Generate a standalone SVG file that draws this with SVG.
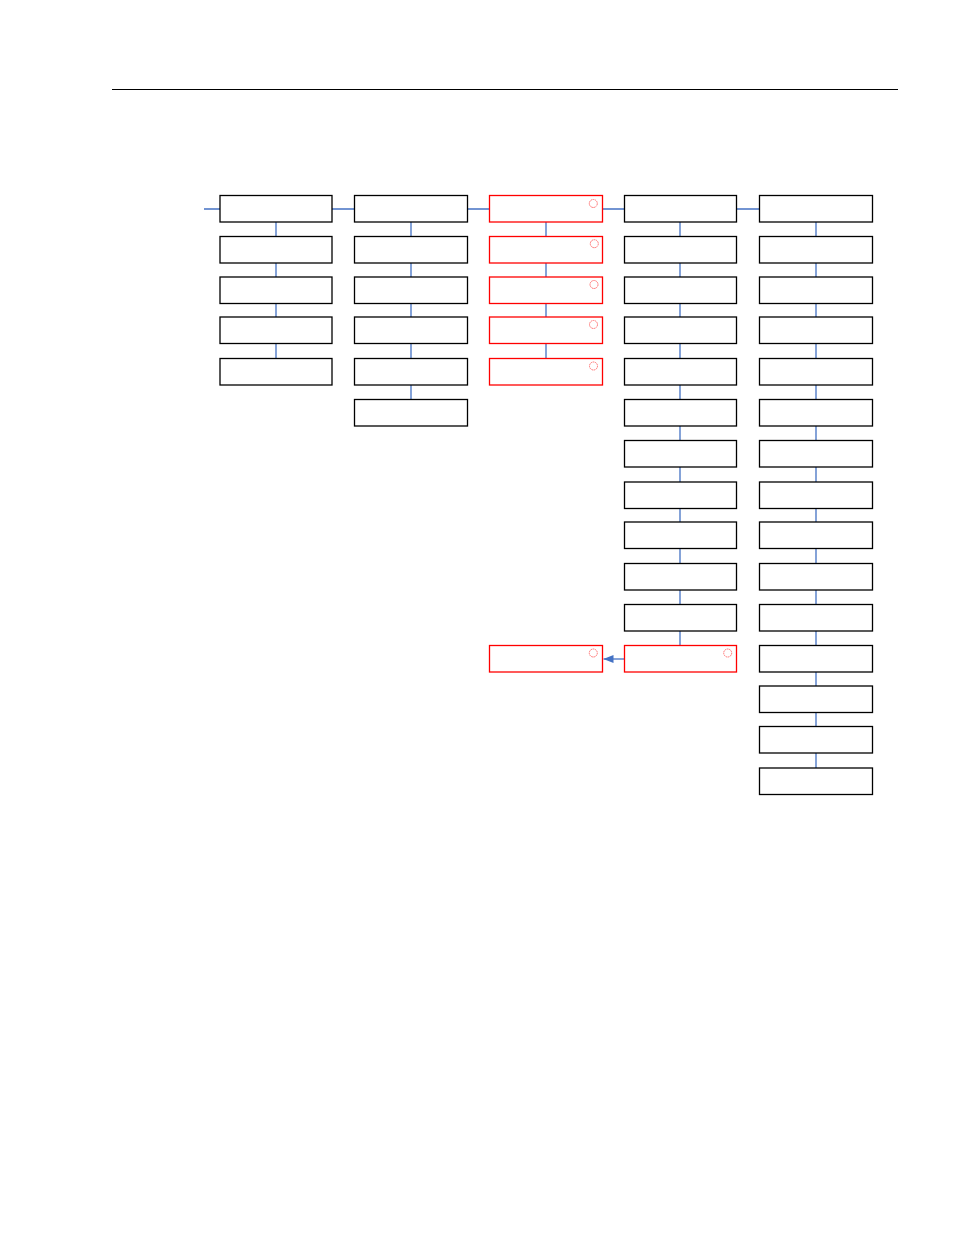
<svg xmlns="http://www.w3.org/2000/svg" width="954" height="1235" viewBox="0 0 954 1235">
<style>
.b{fill:#fff;stroke:#000;stroke-width:1.3}
.r{fill:#fff;stroke:#ff0000;stroke-width:1.3}
.c{fill:none;stroke:#ff7070;stroke-width:1;stroke-dasharray:1.6 0.6}
.k{fill:none;stroke:#4472c4;stroke-width:1.3}
</style>
<defs>
<marker id="ah" viewBox="0 0 10 8" refX="10" refY="4" markerWidth="10" markerHeight="8" orient="auto" markerUnits="userSpaceOnUse"><path d="M0,0L10,4L0,8z" fill="#4472c4"/></marker>
</defs>
<line x1="112" y1="89.5" x2="898" y2="89.5" stroke="#000" stroke-width="1"/>
<g id="connectors">
<path class="k" d="M204,209H220M332,209H354M467,209H489M602,209H624M736,209H759"/>
<path class="k" d="M276,222V236.5M276,263V277M276,303.5V317M276,343.5V358.5"/>
<path class="k" d="M411,222V236.5M411,263V277M411,303.5V317M411,343.5V358.5M411,385V399.5"/>
<path class="k" d="M546,222V236.5M546,263V277M546,303.5V317M546,343.5V358.5"/>
<path class="k" d="M680,222V236.5M680,263V277M680,303.5V317M680,343.5V358.5M680,385V399.5M680,426V440.5M680,467V482M680,508.5V522M680,548.5V563.5M680,590V604.5M680,631V645.5"/>
<path class="k" d="M816,222V236.5M816,263V277M816,303.5V317M816,343.5V358.5M816,385V399.5M816,426V440.5M816,467V482M816,508.5V522M816,548.5V563.5M816,590V604.5M816,631V645.5M816,672V686M816,712.5V726.5M816,753V768"/>
<line class="k" x1="624" y1="659" x2="603.5" y2="659" marker-end="url(#ah)"/>
</g>
<g id="col1">
<rect id="n1_0" class="b" x="220" y="195.5" width="112" height="26.5"/>
<rect id="n1_1" class="b" x="220" y="236.5" width="112" height="26.5"/>
<rect id="n1_2" class="b" x="220" y="277" width="112" height="26.5"/>
<rect id="n1_3" class="b" x="220" y="317" width="112" height="26.5"/>
<rect id="n1_4" class="b" x="220" y="358.5" width="112" height="26.5"/>
</g>
<g id="col2">
<rect id="n2_0" class="b" x="354.5" y="195.5" width="113" height="26.5"/>
<rect id="n2_1" class="b" x="354.5" y="236.5" width="113" height="26.5"/>
<rect id="n2_2" class="b" x="354.5" y="277" width="113" height="26.5"/>
<rect id="n2_3" class="b" x="354.5" y="317" width="113" height="26.5"/>
<rect id="n2_4" class="b" x="354.5" y="358.5" width="113" height="26.5"/>
<rect id="n2_5" class="b" x="354.5" y="399.5" width="113" height="26.5"/>
</g>
<g id="col3">
<g id="n3_0"><rect class="r" x="489.5" y="195.5" width="113" height="26.5"/><circle class="c" cx="593.3" cy="203.5" r="4"/></g>
<g id="n3_1"><rect class="r" x="489.5" y="236.5" width="113" height="26.5"/><circle class="c" cx="594.3" cy="243.7" r="4"/></g>
<g id="n3_2"><rect class="r" x="489.5" y="277" width="113" height="26.5"/><circle class="c" cx="594" cy="284.5" r="4"/></g>
<g id="n3_3"><rect class="r" x="489.5" y="317" width="113" height="26.5"/><circle class="c" cx="593.5" cy="324.5" r="4"/></g>
<g id="n3_4"><rect class="r" x="489.5" y="358.5" width="113" height="26.5"/><circle class="c" cx="593.5" cy="366" r="4"/></g>
<g id="n3_11"><rect class="r" x="489.5" y="645.5" width="113" height="26.5"/><circle class="c" cx="593.3" cy="653" r="4"/></g>
</g>
<g id="col4">
<rect id="n4_0" class="b" x="624.5" y="195.5" width="112" height="26.5"/>
<rect id="n4_1" class="b" x="624.5" y="236.5" width="112" height="26.5"/>
<rect id="n4_2" class="b" x="624.5" y="277" width="112" height="26.5"/>
<rect id="n4_3" class="b" x="624.5" y="317" width="112" height="26.5"/>
<rect id="n4_4" class="b" x="624.5" y="358.5" width="112" height="26.5"/>
<rect id="n4_5" class="b" x="624.5" y="399.5" width="112" height="26.5"/>
<rect id="n4_6" class="b" x="624.5" y="440.5" width="112" height="26.5"/>
<rect id="n4_7" class="b" x="624.5" y="482" width="112" height="26.5"/>
<rect id="n4_8" class="b" x="624.5" y="522" width="112" height="26.5"/>
<rect id="n4_9" class="b" x="624.5" y="563.5" width="112" height="26.5"/>
<rect id="n4_10" class="b" x="624.5" y="604.5" width="112" height="26.5"/>
<g id="n4_11"><rect class="r" x="624.5" y="645.5" width="112" height="26.5"/><circle class="c" cx="727.7" cy="653" r="4"/></g>
</g>
<g id="col5">
<rect id="n5_0" class="b" x="759.5" y="195.5" width="113" height="26.5"/>
<rect id="n5_1" class="b" x="759.5" y="236.5" width="113" height="26.5"/>
<rect id="n5_2" class="b" x="759.5" y="277" width="113" height="26.5"/>
<rect id="n5_3" class="b" x="759.5" y="317" width="113" height="26.5"/>
<rect id="n5_4" class="b" x="759.5" y="358.5" width="113" height="26.5"/>
<rect id="n5_5" class="b" x="759.5" y="399.5" width="113" height="26.5"/>
<rect id="n5_6" class="b" x="759.5" y="440.5" width="113" height="26.5"/>
<rect id="n5_7" class="b" x="759.5" y="482" width="113" height="26.5"/>
<rect id="n5_8" class="b" x="759.5" y="522" width="113" height="26.5"/>
<rect id="n5_9" class="b" x="759.5" y="563.5" width="113" height="26.5"/>
<rect id="n5_10" class="b" x="759.5" y="604.5" width="113" height="26.5"/>
<rect id="n5_11" class="b" x="759.5" y="645.5" width="113" height="26.5"/>
<rect id="n5_12" class="b" x="759.5" y="686" width="113" height="26.5"/>
<rect id="n5_13" class="b" x="759.5" y="726.5" width="113" height="26.5"/>
<rect id="n5_14" class="b" x="759.5" y="768" width="113" height="26.5"/>
</g>
</svg>
